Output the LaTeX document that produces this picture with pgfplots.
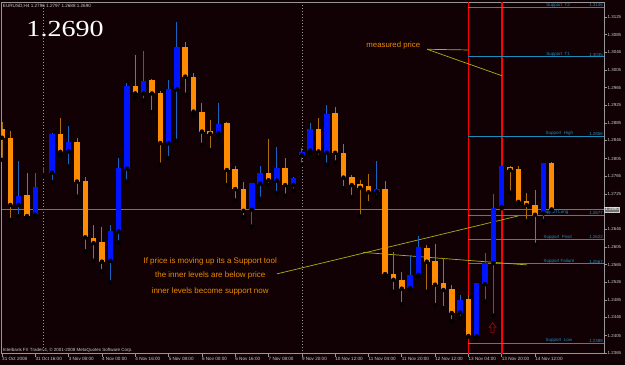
\documentclass[border=0pt]{standalone}
\usepackage{graphicx}
\usepackage{pgfplots}
\pgfplotsset{compat=1.18}
\usepackage{pgfplotstable}
\usepackage{fontspec}
\setmainfont{Liberation Sans}
\newfontfamily\serifbig{Liberation Serif}

\definecolor{bg}{RGB}{17,1,5}
\definecolor{frame}{RGB}{150,150,150}
\definecolor{lbl}{RGB}{205,205,205}
\definecolor{bullbody}{RGB}{0,20,255}
\definecolor{bullwick}{RGB}{25,100,190}
\definecolor{bearbody}{RGB}{255,140,0}
\definecolor{bearwick}{RGB}{170,110,10}
\definecolor{supp}{RGB}{30,140,185}
\definecolor{olive}{RGB}{175,175,20}
\definecolor{txtorange}{RGB}{235,140,0}
\definecolor{bidgray}{RGB}{115,115,115}
\definecolor{arrowred}{RGB}{170,0,0}

% bullish candles (close > open)
\pgfplotstableread{
X  O      H      L      C
2  1.2700 1.2800 1.2675 1.2721
4  1.2678 1.2772 1.2673 1.2741
5  1.2767 1.2786 1.2766 1.2769
6  1.2773 1.2863 1.2752 1.2861
8  1.2821 1.2879 1.2787 1.2842
13 1.2574 1.2655 1.2525 1.2642
14 1.2640 1.2806 1.2615 1.2783
15 1.2782 1.2975 1.2753 1.2969
17 1.2952 1.3049 1.2936 1.2981
20 1.2839 1.2982 1.2806 1.2963
21 1.2961 1.3114 1.2845 1.3058
26 1.2862 1.2931 1.2854 1.2882
30 1.2689 1.2750 1.2651 1.2749
31 1.2748 1.2788 1.2714 1.2772
33 1.2755 1.2832 1.2727 1.2784
35 1.2745 1.2764 1.2732 1.2761
36 1.2812 1.2828 1.2791 1.2819
37 1.2823 1.2885 1.2818 1.2872
39 1.2818 1.2926 1.2791 1.2905
45 1.2730 1.2800 1.2719 1.2737
49 1.2512 1.2587 1.2510 1.2542
50 1.2542 1.2630 1.2537 1.2605
55 1.2457 1.2497 1.2445 1.2486
57 1.2403 1.2524 1.2402 1.2523
58 1.2521 1.2591 1.2482 1.2569
59 1.2569 1.2725 1.2450 1.2694
60 1.2695 1.2788 1.2693 1.2787
65 1.2681 1.2795 1.2663 1.2794
}\bulls

% bearish candles (close < open)
\pgfplotstableread{
X  O      H      L      C
0  1.2872 1.2888 1.2802 1.2852
1  1.2852 1.2867 1.2666 1.2700
3  1.2723 1.2772 1.2673 1.2675
7  1.2860 1.2896 1.2813 1.2820
9  1.2842 1.2851 1.2719 1.2753
10 1.2754 1.2763 1.2595 1.2627
11 1.2626 1.2655 1.2574 1.2614
12 1.2616 1.2650 1.2550 1.2572
16 1.2969 1.3039 1.2943 1.2952
18 1.2982 1.2985 1.2910 1.2952
19 1.2954 1.2958 1.2791 1.2840
22 1.3058 1.3069 1.2949 1.2990
23 1.2990 1.2999 1.2903 1.2911
24 1.2911 1.2930 1.2836 1.2866
25 1.2867 1.2892 1.2824 1.2861
27 1.2885 1.2887 1.2745 1.2779
28 1.2781 1.2787 1.2710 1.2736
29 1.2736 1.2751 1.2672 1.2687
32 1.2773 1.2850 1.2745 1.2756
34 1.2784 1.2807 1.2721 1.2745
38 1.2872 1.2897 1.2809 1.2821
40 1.2907 1.2922 1.2796 1.2818
41 1.2818 1.2838 1.2738 1.2762
42 1.2764 1.2768 1.2718 1.2745
43 1.2747 1.2757 1.2674 1.2739
44 1.2742 1.2770 1.2704 1.2729
46 1.2736 1.2754 1.2540 1.2544
47 1.2544 1.2593 1.2504 1.2531
48 1.2531 1.2548 1.2476 1.2511
51 1.2604 1.2610 1.2504 1.2572
52 1.2574 1.2612 1.2474 1.2520
53 1.2523 1.2580 1.2467 1.2508
54 1.2511 1.2520 1.2437 1.2456
56 1.2488 1.2497 1.2403 1.2404
61 1.2785 1.2788 1.2728 1.2779
62 1.2781 1.2787 1.2704 1.2707
63 1.2708 1.2728 1.2663 1.2700
64 1.2700 1.2734 1.2610 1.2678
66 1.2796 1.2797 1.2688 1.2690
}\bears

\tikzset{
  suppline/.style={supp, line width=0.8pt},
  supplbl/.style={anchor=south west, text=supp, font=\fontsize{4.5}{5}\selectfont, inner sep=0.4pt},
  suppval/.style={anchor=south east, text=supp, font=\fontsize{4.4}{5}\selectfont, inner sep=0.4pt},
}

\begin{document}
\begin{tikzpicture}[x=1pt,y=1pt]
\fill[bg] (0,0) rectangle (625,365);
\begin{axis}[
  at={(1.5pt,11pt)}, anchor=south west,
  width=602.5pt, height=352pt, scale only axis,
  xmin=-0.024, xmax=72.28, ymin=1.23638, ymax=1.31586,
  clip mode=individual,
  axis line style={frame, line width=0.8pt},
  xtick pos=left, ytick pos=right,
  tick align=outside, major tick length=3pt,
  tick style={frame, line width=0.6pt},
  scaled y ticks=false,
  xtick={0,4,8,12,16,20,24,28,32,36,40,44,48,52,56,60,64},
  xticklabels={31 Oct 2008,31 Oct 16:00,3 Nov 08:00,4 Nov 00:00,4 Nov 16:00,5 Nov 08:00,6 Nov 00:00,6 Nov 16:00,7 Nov 08:00,9 Nov 20:00,10 Nov 12:00,11 Nov 04:00,11 Nov 20:00,12 Nov 12:00,13 Nov 04:00,13 Nov 20:00,14 Nov 12:00},
  xticklabel style={anchor=north west, font=\fontsize{4.6}{5}\selectfont, text=lbl, inner sep=0pt, yshift=-0.5pt},
  ytick={1.3125,1.3085,1.3046,1.3005,1.2965,1.2925,1.2885,1.2846,1.2805,1.2765,1.2725,1.2646,1.2605,1.2565,1.2526,1.2485,1.2446,1.2405,1.2365},
  yticklabels={1.3125,1.3085,1.3046,1.3005,1.2965,1.2925,1.2885,1.2846,1.2805,1.2765,1.2725,1.2646,1.2605,1.2565,1.2526,1.2485,1.2446,1.2405,1.2365},
  yticklabel style={anchor=west, font=\fontsize{4.4}{5}\selectfont, text=lbl, inner sep=0pt, xshift=0.5pt},
]
% period separators
\draw[frame, line width=0.6pt, dash pattern=on 1pt off 2pt] (axis cs:5,1.23638) -- (axis cs:5,1.31586);
\draw[frame, line width=0.6pt, dash pattern=on 1pt off 2pt] (axis cs:36,1.23638) -- (axis cs:36,1.31586);
% bid line
\draw[bidgray, line width=1.2pt] (axis cs:-0.024,1.2690) -- (axis cs:72.28,1.2690);
% red vertical lines
\draw[red, line width=1.8pt] (axis cs:56,1.23638) -- (axis cs:56,1.31586);
\draw[red, line width=1.8pt] (axis cs:60,1.23638) -- (axis cs:60,1.31586);
% support levels
\draw[suppline] (axis cs:56,1.3146) -- (axis cs:72.28,1.3146);
\node[supplbl] at (axis cs:65.3,1.3146) {Support\ \ T2};
\node[suppval] at (axis cs:72.2,1.3146) {1.3146};
\draw[suppline] (axis cs:56,1.3035) -- (axis cs:72.28,1.3035);
\node[supplbl] at (axis cs:65.3,1.3035) {Support\ \ T1};
\node[suppval] at (axis cs:72.2,1.3035) {1.3035};
\draw[suppline] (axis cs:56,1.2856) -- (axis cs:72.28,1.2856);
\node[supplbl] at (axis cs:65.2,1.2856) {Support\ \ High};
\node[suppval] at (axis cs:72.2,1.2856) {1.2856};
\draw[suppline] (axis cs:56,1.2677) -- (axis cs:72.28,1.2677);
\node[supplbl] at (axis cs:64.7,1.2677) {Support Long};
\node[suppval] at (axis cs:72.2,1.2677) {1.2677};
\draw[suppline] (axis cs:56,1.2622) -- (axis cs:72.28,1.2622);
\node[supplbl] at (axis cs:64.96,1.2622) {Support\ \ Pivot};
\node[suppval] at (axis cs:72.2,1.2622) {1.2622};
\draw[suppline] (axis cs:56,1.2567) -- (axis cs:72.28,1.2567);
\node[supplbl] at (axis cs:64.96,1.2567) {Support Failure};
\node[suppval] at (axis cs:72.2,1.2567) {1.2567};
\draw[suppline] (axis cs:56,1.2388) -- (axis cs:72.28,1.2388);
\node[supplbl] at (axis cs:65.2,1.2388) {Support\ \ Low};
\node[suppval] at (axis cs:72.2,1.2388) {1.2388};
% trend lines
\draw[olive, line width=0.7pt] (axis cs:51.04,1.30518) -- (axis cs:56,1.30502);
\draw[olive, line width=0.7pt] (axis cs:51.04,1.30518) -- (axis cs:60,1.29922);
\draw[olive, line width=0.7pt] (axis cs:33.0,1.25444) -- (axis cs:62.0,1.26754);
\draw[olive, line width=0.7pt] (axis cs:43.36,1.25930) -- (axis cs:63.04,1.25647);

% wicks
\addplot[only marks, mark=none, forget plot, error bars/.cd, y dir=plus, y explicit, error mark=none,
  error bar style={draw=bullwick, line width=0.9pt}]
  table[x=X, y=L, y error plus expr=\thisrow{H}-\thisrow{L}] {\bulls};
\addplot[only marks, mark=none, forget plot, error bars/.cd, y dir=plus, y explicit, error mark=none,
  error bar style={draw=bearwick, line width=0.9pt}]
  table[x=X, y=L, y error plus expr=\thisrow{H}-\thisrow{L}] {\bears};
% bodies
\addplot[only marks, mark=none, forget plot, error bars/.cd, y dir=plus, y explicit, error mark=none,
  error bar style={draw=bullbody, line width=5.5pt}]
  table[x=X, y=O, y error plus expr=\thisrow{C}-\thisrow{O}] {\bulls};
\addplot[only marks, mark=none, forget plot, error bars/.cd, y dir=plus, y explicit, error mark=none,
  error bar style={draw=bearbody, line width=5.5pt}]
  table[x=X, y=C, y error plus expr=\thisrow{O}-\thisrow{C}] {\bears};

% current price box
\node[anchor=west, fill=bidgray, draw=lbl, line width=0.4pt, text=white, font=\fontsize{4.4}{5}\selectfont, inner sep=0.8pt] at (axis cs:72.33,1.2690) {1.2690};
\end{axis}

% texts
\node[anchor=west, text=lbl, font=\fontsize{4.6}{5}\selectfont, inner sep=0pt] at (2.5,359.3) {EURUSD,H4 1.2796 1.2797 1.2688 1.2690};
\node[anchor=base west, text=white, inner sep=0pt] at (26,328.5) {\scalebox{1.22}[1]{\serifbig\fontsize{23}{23}\selectfont 1.2690}};
\node[text=txtorange, font=\fontsize{7.8}{9}\selectfont, inner sep=0pt] at (393.2,319.3) {measured price};
\node[text=txtorange, font=\fontsize{8}{9}\selectfont, inner sep=0pt] at (210,103.3) {If price is moving up its a Support tool};
\node[text=txtorange, font=\fontsize{8}{9}\selectfont, inner sep=0pt] at (210,89) {the inner levels are below price};
\node[text=txtorange, font=\fontsize{8}{9}\selectfont, inner sep=0pt] at (210,73.3) {inner levels become support now};
\node[anchor=west, text=lbl, font=\fontsize{4.5}{5}\selectfont, inner sep=0pt] at (2.5,14.5) {Interbank FX Trader 4, © 2001-2008 MetaQuotes Software Corp.};
% up arrow
\draw[arrowred, line width=0.7pt, line join=miter] (492.5,42) -- (496,37.5) -- (494,37.5) -- (494,32) -- (491,32) -- (491,37.5) -- (489,37.5) -- cycle;
\end{tikzpicture}
\end{document}
